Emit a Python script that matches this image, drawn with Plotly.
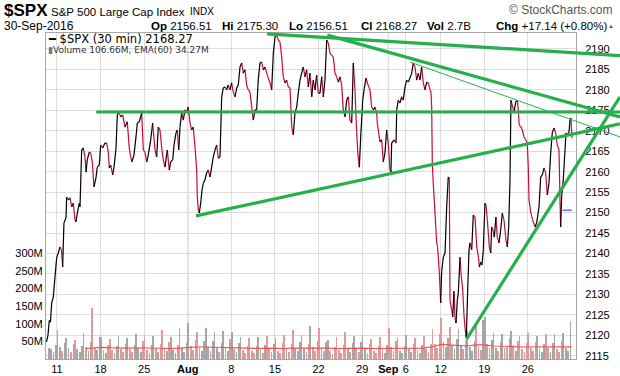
import plotly.graph_objects as go
import numpy as np

# ---------------- data ----------------
# time axis: trading-day index, 0 = Mon 11-Jul-2016 open; 30-min closes of $SPX
bar_t = [
    -1.20, -1.03, -0.88, -0.75, -0.61, -0.42, -0.23, -0.03, 0.15, 0.34, 0.52, 0.65, 0.80, 1.03, 1.11, 1.30,
    1.49, 1.69, 1.87, 2.06, 2.18, 2.33, 2.56, 2.64, 2.83, 3.02, 3.21, 3.33, 3.47, 3.70, 3.86, 4.05,
    4.24, 4.47, 4.62, 4.85, 5.01, 5.24, 5.50, 5.70, 5.88, 6.00, 6.16, 6.39, 6.54, 6.77, 6.92, 7.08,
    7.31, 7.53, 7.80, 8.06, 8.29, 8.45, 8.60, 8.83, 9.06, 9.21, 9.44, 9.71, 9.90, 10.09, 10.29, 10.47,
    10.75, 10.97, 11.24, 11.43, 11.62, 11.81, 12.01, 12.19, 12.39, 12.50, 12.65, 12.88, 13.04, 13.27, 13.42, 13.65,
    13.80, 13.96, 14.11, 14.30, 14.48, 14.68, 14.87, 15.06, 15.25, 15.44, 15.63, 15.83, 16.02, 16.09, 16.21, 16.32,
    16.48, 16.63, 16.78, 16.97, 17.16, 17.35, 17.55, 17.74, 17.92, 18.12, 18.31, 18.50, 18.69, 18.89, 19.07, 19.27,
    19.46, 19.64, 19.84, 20.03, 20.21, 20.41, 20.61, 20.79, 20.99, 21.18, 21.37, 21.56, 21.75, 21.94, 22.13, 22.33,
    22.51, 22.71, 22.90, 23.08, 23.28, 23.47, 23.66, 23.85, 24.05, 24.23, 24.43, 24.62, 24.81, 25.00, 25.19, 25.38,
    25.57, 25.77, 25.95, 26.15, 26.34, 26.53, 26.72, 26.92, 27.10, 27.29, 27.49, 27.67, 27.87, 28.06, 28.25, 28.44,
    28.64, 28.82, 29.01, 29.21, 29.39, 29.59, 29.78, 29.97, 30.16, 30.36, 30.54, 30.73, 30.93, 31.11, 31.31, 31.50,
    31.69, 31.88, 32.08, 32.26, 32.45, 32.65, 32.83, 33.03, 33.22, 33.41, 33.60, 33.80, 33.98, 34.17, 34.37, 34.52,
    34.67, 34.83, 35.06, 35.21, 35.44, 35.67, 35.89, 36.09, 36.28, 36.47, 36.66, 36.73, 37.04, 37.23, 37.42, 37.61,
    37.81, 37.99, 38.19, 38.30, 38.38, 38.65, 38.88, 38.96, 39.14, 39.33, 39.53, 39.71, 39.91, 40.10, 40.29, 40.48,
    40.68, 40.86, 41.06, 41.25, 41.44, 41.63, 41.82, 42.01, 42.20, 42.40, 42.58, 42.78, 42.89, 42.97, 43.04, 43.15,
    43.35, 43.46, 43.54, 43.64, 43.73, 43.85, 44.00, 44.11, 44.30, 44.50, 44.69, 44.87, 44.99, 45.07, 45.26, 45.38,
    45.53, 45.64, 45.76, 45.91, 46.02, 46.22, 46.33, 46.53, 46.67, 46.82, 46.94, 47.10, 47.25, 47.36, 47.56, 47.74,
    47.94, 48.14, 48.33, 48.44, 48.59, 48.74, 48.89, 49.08, 49.20, 49.35, 49.58, 49.74, 49.85, 50.00, 50.15, 50.34,
    50.49, 50.69, 50.88, 51.07, 51.26, 51.49, 51.64, 51.80, 51.95, 52.06, 52.21, 52.41, 52.60, 52.79, 52.90, 53.01,
    53.21, 53.36, 53.56, 53.75, 53.93, 54.05, 54.13, 54.32, 54.55, 54.82, 55.01, 55.28, 55.47, 55.66, 55.85, 56.04,
    56.23, 56.42, 56.62, 56.80, 57.00, 57.19, 57.37, 57.57, 57.68, 57.76, 57.87, 58.06, 58.26, 58.37, 58.52, 58.72,
    58.83, 58.94, 59.06,
]
bar_close = [
    2118.4, 2120.1, 2123.7, 2123.2, 2127.9, 2129.4, 2134.3, 2139.1, 2140.1, 2141.6, 2140.9, 2136.7, 2147.5, 2148.7, 2153.8, 2153.1,
    2153.6, 2151.4, 2152.3, 2148.2, 2147.7, 2149.9, 2152.3, 2151.4, 2165.3, 2165.8, 2163.6, 2159.9, 2162.9, 2164.8, 2164.6, 2162.4,
    2156.3, 2158.5, 2161.1, 2161.6, 2166.5, 2165.8, 2167.0, 2167.0, 2164.8, 2160.9, 2161.6, 2159.2, 2161.1, 2165.8, 2173.9, 2174.6,
    2173.4, 2173.9, 2170.9, 2172.2, 2165.8, 2163.6, 2162.4, 2164.1, 2168.5, 2171.9, 2172.2, 2174.4, 2165.3, 2164.8, 2162.4, 2164.1,
    2167.8, 2171.9, 2165.3, 2163.6, 2170.9, 2170.2, 2165.8, 2162.9, 2161.1, 2162.9, 2165.3, 2160.4, 2162.4, 2162.9, 2166.5, 2169.5,
    2170.2, 2165.3, 2170.9, 2174.4, 2172.6, 2175.1, 2174.6, 2175.8, 2171.9, 2170.2, 2170.9, 2166.0, 2160.4, 2153.8, 2150.6, 2149.9,
    2152.3, 2155.5, 2157.2, 2158.0, 2159.7, 2160.4, 2158.7, 2161.1, 2163.6, 2165.3, 2166.5, 2163.3, 2163.6, 2178.3, 2180.5, 2180.7,
    2180.0, 2181.2, 2180.0, 2181.7, 2179.5, 2178.3, 2180.5, 2181.2, 2185.6, 2186.6, 2184.1, 2184.9, 2181.2, 2180.0, 2179.5, 2175.8,
    2172.6, 2175.1, 2175.1, 2182.4, 2186.6, 2186.8, 2184.9, 2185.6, 2184.1, 2182.9, 2181.7, 2180.0, 2189.0, 2192.9, 2193.4, 2192.2,
    2191.7, 2188.0, 2183.2, 2181.7, 2182.4, 2180.7, 2180.5, 2170.9, 2169.0, 2174.4, 2175.8, 2179.2, 2182.4, 2184.1, 2185.6, 2183.2,
    2184.9, 2180.7, 2184.1, 2178.3, 2182.4, 2180.0, 2183.6, 2179.2, 2179.2, 2183.2, 2178.3, 2182.4, 2192.2, 2191.5, 2189.0, 2188.5,
    2188.0, 2184.1, 2183.2, 2181.9, 2183.2, 2181.2, 2175.1, 2173.4, 2177.5, 2178.3, 2172.6, 2171.9, 2186.6, 2180.0, 2169.5, 2164.1,
    2161.1, 2168.5, 2177.5, 2180.0, 2182.9, 2181.2, 2180.0, 2175.8, 2175.1, 2175.8, 2174.4, 2171.9, 2167.3, 2167.8, 2162.4, 2164.6,
    2170.2, 2167.0, 2160.4, 2159.9, 2167.0, 2167.8, 2167.0, 2175.1, 2177.5, 2176.8, 2178.3, 2177.5, 2180.7, 2182.4, 2181.9, 2182.9,
    2184.1, 2186.6, 2185.6, 2182.4, 2184.1, 2182.4, 2185.6, 2181.7, 2180.0, 2181.9, 2181.7, 2180.0, 2179.5, 2175.8, 2162.1, 2157.2,
    2149.9, 2145.7, 2142.6, 2141.6, 2139.1, 2135.2, 2127.9, 2135.5, 2139.1, 2140.1, 2151.4, 2158.7, 2158.5, 2128.6, 2126.2, 2124.5,
    2130.8, 2124.2, 2123.0, 2128.6, 2130.3, 2139.1, 2135.2, 2131.1, 2125.0, 2121.3, 2119.3, 2131.1, 2140.9, 2142.6, 2140.9, 2149.4,
    2148.9, 2141.6, 2139.1, 2136.7, 2137.9, 2137.2, 2140.9, 2152.3, 2151.9, 2148.2, 2141.6, 2140.1, 2146.5, 2145.7, 2144.0, 2148.9,
    2144.0, 2142.6, 2145.7, 2149.9, 2148.2, 2143.3, 2141.6, 2146.5, 2158.0, 2177.5, 2176.3, 2174.4, 2177.0, 2177.5, 2175.1, 2171.4,
    2170.9, 2170.2, 2168.5, 2167.8, 2167.0, 2161.1, 2153.1, 2150.1, 2148.2, 2146.5, 2147.5, 2151.4, 2158.7, 2159.2, 2160.9, 2159.7,
    2154.3, 2157.2, 2164.6, 2169.5, 2170.7, 2169.5, 2166.5, 2165.3, 2153.8, 2146.5, 2153.8, 2158.0, 2165.3, 2169.5, 2169.0, 2169.7,
    2172.6, 2173.1, 2168.2,
]
assert len(bar_t) == len(bar_close)

# volume (millions), four readings per trading day, days -1 (8-Jul) .. 58 (30-Sep)
vol_days = list(range(-1, 59))
vol_open = [30, 82, 60, 55, 75, 144, 63, 58, 66, 60, 70, 63, 66, 82, 62, 88, 103, 77, 87, 77,
            79, 77, 63, 60, 63, 66, 60, 68, 82, 68, 94, 89, 54, 63, 77, 66, 68, 58, 63, 89,
            60, 68, 60, 65, 85, 116, 90, 85, 80, 96, 120, 75, 70, 80, 65, 75, 65, 72, 70, 75]
vol_am = [28, 35, 30, 27, 33, 32, 26, 25, 29, 27, 30, 25, 28, 31, 26, 30, 38, 34, 35, 30,
          33, 29, 25, 24, 26, 27, 24, 28, 32, 27, 33, 31, 22, 25, 30, 28, 27, 23, 26, 34,
          24, 28, 25, 27, 42, 48, 40, 38, 34, 36, 44, 32, 30, 33, 28, 31, 28, 30, 29, 32]
vol_pm = [20, 24, 21, 19, 22, 25, 18, 17, 20, 19, 21, 18, 20, 22, 18, 21, 26, 24, 23, 21,
          22, 20, 17, 16, 18, 19, 17, 19, 22, 19, 23, 22, 15, 17, 21, 20, 18, 16, 18, 24,
          17, 19, 17, 19, 30, 34, 29, 27, 24, 26, 31, 23, 35, 24, 20, 22, 20, 21, 21, 23]
vol_close = [40, 45, 42, 38, 48, 62, 40, 38, 44, 40, 50, 40, 43, 47, 40, 46, 55, 50, 52, 46,
             58, 45, 38, 36, 40, 42, 45, 43, 48, 42, 50, 47, 35, 40, 46, 48, 42, 38, 40, 52,
             38, 42, 40, 44, 70, 60, 58, 55, 52, 110, 55, 48, 60, 50, 45, 48, 44, 46, 50, 107]

ema_t = [3.3, 4, 5, 6, 7, 8, 9, 10, 11, 12, 13, 14, 15, 16, 17, 18, 19, 20, 21, 22, 23, 24, 25, 26, 27, 28,
         29, 30, 31, 32, 33, 34, 35, 36, 37, 38, 39, 40, 41, 42, 43, 44, 45, 46, 47, 48, 49, 50, 51, 52,
         53, 54, 55, 56, 57, 58, 59]
ema_vals = [30, 31, 33, 32, 31, 31, 32, 31, 30, 31, 30, 31, 33, 34, 34, 33, 34, 33, 31, 30, 30, 31, 30, 30, 31, 31,
            33, 33, 31, 30, 31, 31, 31, 30, 30, 32, 31, 31, 30, 31, 35, 41, 40, 39, 37, 40, 40, 37, 37, 36,
            34, 34, 33, 33, 33, 34, 34.3]

tick_days = [0, 5, 10, 15, 20, 25, 30, 35, 38, 40, 44, 49, 54]
tick_text = ["11", "18", "25", "<b>Aug</b>", "8", "15", "22", "29", "<b>Sep</b>", "6", "12", "19", "26"]
month_days = [15, 38]
price_ticks = list(range(2115, 2191, 5))
vol_ticks = [50, 100, 150, 200, 250, 300]
vol_tick_text = ["50M", "100M", "150M", "200M", "250M", "300M"]

# trendlines drawn on the chart: (day0, price0, day1, price1)
trend_thick = [
    (24.1, 2193.7, 64.56, 2188.4),
    (31.0, 2193.4, 64.56, 2173.4),
    (4.5, 2174.6, 64.56, 2174.6),
    (15.94, 2149.2, 64.56, 2171.7),
    (46.98, 2119.1, 64.56, 2178.3),
]
trend_thin = [(40.5, 2186.8, 64.56, 2168.5)]
prev_close = 2150.6
prev_close_from = 58.0

# header quote values
quote_labels = ["Op", "Hi", "Lo", "Cl", "Vol", "Chg"]
quote_values = ["2156.51", "2175.30", "2156.51", "2168.27", "2.7B", "+17.14 (+0.80%)"]

# ---------------- layout geometry ----------------
W, H = 620, 376
ML, MR, MT, MB = 46, 44, 33, 17
PW, PH = W - ML - MR, H - MT - MB
X_RANGE = [-1.26, 59.52]
P_RANGE = [2114.21, 2193.91]
V_RANGE = [0, 926]

def px(xpix):
    return (xpix - ML) / PW

def py(ypix):
    return (H - MB - ypix) / PH

def dx(day):
    return (day - X_RANGE[0]) / (X_RANGE[1] - X_RANGE[0])

def dy(price):
    return (price - P_RANGE[0]) / (P_RANGE[1] - P_RANGE[0])

fig = go.Figure()

# ---------------- volume ----------------
offsets = [0.05, 0.33, 0.60, 0.88]
vx, vy = [], []
for k, d in enumerate(vol_days):
    for off, arr in zip(offsets, (vol_open, vol_am, vol_pm, vol_close)):
        vx.append(d + off)
        vy.append(arr[k])
vx = np.array(vx)
prev = np.interp(vx - 0.25, bar_t, bar_close)
cur = np.interp(vx, bar_t, bar_close)
vcol = ["#dd9c9c" if c < p else "#a6a6a6" for c, p in zip(cur, prev)]
fig.add_trace(go.Bar(x=vx, y=vy, width=0.2, marker=dict(color=vcol, line=dict(width=0)),
                     yaxis="y", hoverinfo="skip"))
fig.add_trace(go.Scatter(x=ema_t, y=ema_vals, mode="lines", line=dict(color="#ff4a4a", width=1.1),
                         yaxis="y", hoverinfo="skip"))

# ---------------- price (black up / red down) ----------------
ux, uy, rx, ry = [], [], [], []
for i in range(1, len(bar_t)):
    seg_x = [bar_t[i - 1], bar_t[i], None]
    seg_y = [bar_close[i - 1], bar_close[i], None]
    if bar_close[i] >= bar_close[i - 1]:
        ux += seg_x; uy += seg_y
    else:
        rx += seg_x; ry += seg_y
fig.add_trace(go.Scatter(x=rx, y=ry, mode="lines", line=dict(color="#cc0a3c", width=1.2),
                         yaxis="y2", connectgaps=False, hoverinfo="skip"))
fig.add_trace(go.Scatter(x=ux, y=uy, mode="lines", line=dict(color="#000000", width=1.2),
                         yaxis="y2", connectgaps=False, hoverinfo="skip"))

# ---------------- shapes ----------------
shapes = []
for m in month_days:
    shapes.append(dict(type="line", xref="x", yref="paper", x0=m, x1=m, y0=0, y1=1,
                       line=dict(color="#b4b4b4", width=1), layer="between"))
# legend box
shapes.append(dict(type="rect", xref="paper", yref="paper", x0=px(46.5), x1=px(214), y0=py(56), y1=py(33.5),
                   fillcolor="white", line=dict(width=0), layer="between"))
GREEN = "#26b04b"
for (d0, p0, d1, p1) in trend_thick:
    shapes.append(dict(type="line", xref="paper", yref="paper", x0=dx(d0), y0=dy(p0), x1=dx(d1), y1=dy(p1),
                       line=dict(color=GREEN, width=3.2), layer="above"))
for (d0, p0, d1, p1) in trend_thin:
    shapes.append(dict(type="line", xref="paper", yref="paper", x0=dx(d0), y0=dy(p0), x1=dx(d1), y1=dy(p1),
                       line=dict(color=GREEN, width=1), layer="above"))
shapes.append(dict(type="line", xref="x", yref="y2", x0=prev_close_from, x1=X_RANGE[1], y0=prev_close, y1=prev_close,
                   line=dict(color="#1a1aff", width=1, dash="dash"), layer="above"))

FONT = "Liberation Sans, Arial, sans-serif"
ann = []
def text(x, y, s, size=11, color="#000", xanchor="left", family=FONT):
    ann.append(dict(xref="paper", yref="paper", x=px(x), y=py(y), text=s, showarrow=False,
                    xanchor=xanchor, yanchor="middle", borderpad=0, font=dict(family=family, size=size, color=color)))

text(3, 11, "<b>$SPX</b>", size=17)
text(50, 12, "S&P 500 Large Cap Index", size=11.5)
text(189, 12, "INDX", size=10)
text(614, 10, "© StockCharts.com", size=12, color="#555", xanchor="right")
text(3, 26, "30-Sep-2016", size=12)
quote_x = [150, 221, 288, 360, 426, 495]
for qx, lab, val in zip(quote_x, quote_labels, quote_values):
    text(qx, 26, "<b>" + lab + "</b> " + val, size=11.5)
text(607, 26, "▲", size=6, color="#1a8a2a")
text(47, 39, "<b>━</b> $SPX (30 min) 2168.27", size=11.5, family="DejaVu Sans, Verdana, sans-serif")
text(47, 50, "<span style='color:#777'>▮</span>Volume 106.66M, EMA(60) 34.27M", size=9, color="#333",
     family="DejaVu Sans, Verdana, sans-serif")

fig.update_layout(
    width=W, height=H, margin=dict(l=ML, r=MR, t=MT, b=MB, pad=0, autoexpand=False),
    plot_bgcolor="white", paper_bgcolor="white", showlegend=False, bargap=0,
    font=dict(family=FONT, size=11, color="#000"),
    shapes=shapes, annotations=ann,
    xaxis=dict(range=X_RANGE, tickvals=tick_days, ticktext=tick_text, showgrid=True, gridcolor="#dddddd",
               showline=True, linecolor="#a8a8a8", mirror=True, zeroline=False, ticks="", automargin=False,
               tickfont=dict(size=11, family=FONT)),
    yaxis=dict(range=V_RANGE, tickvals=vol_ticks, ticktext=vol_tick_text, side="left", showgrid=False,
               showline=True, linecolor="#a8a8a8", zeroline=False, ticks="", automargin=False,
               tickfont=dict(size=11, family=FONT)),
    yaxis2=dict(range=P_RANGE, tickvals=price_ticks, overlaying="y", side="right", showgrid=True,
                gridcolor="#dddddd", showline=True, linecolor="#a8a8a8", zeroline=False, ticks="",
                automargin=False, ticklabelstandoff=6, tickfont=dict(size=11, family=FONT)),
)

fig.write_html("out.html", config={"displayModeBar": False, "staticPlot": True},
               post_script="document.body.style.margin='0';document.body.style.padding='0';")
